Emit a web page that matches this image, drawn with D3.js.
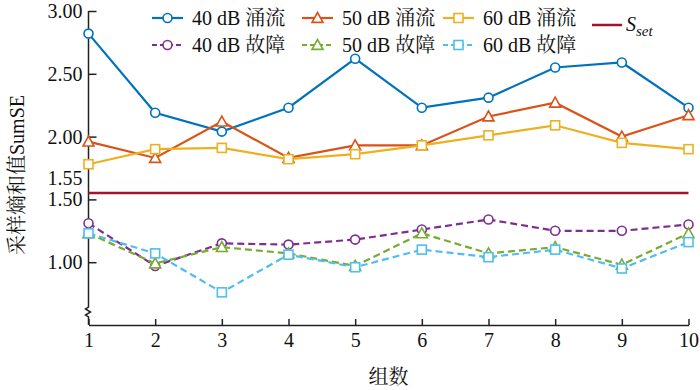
<!DOCTYPE html>
<html>
<head>
<meta charset="utf-8">
<script src="https://cdn.jsdelivr.net/npm/d3@7.9.0/dist/d3.min.js"></script>
<style>
  body { margin: 0; background: #fff; }
  svg text { font-family: "Liberation Serif", "Noto Serif CJK SC", "Noto Sans CJK SC", serif; fill: #111; }
</style>
</head>
<body>
<svg id="chart" width="700" height="390"></svg>
<script>
// data
const groups = [1, 2, 3, 4, 5, 6, 7, 8, 9, 10];
const inrush40 = [2.82, 2.19, 2.04, 2.23, 2.62, 2.23, 2.31, 2.55, 2.59, 2.23];
const inrush50 = [1.96, 1.83, 2.12, 1.83, 1.93, 1.93, 2.16, 2.27, 2.00, 2.17];
const inrush60 = [1.78, 1.90, 1.91, 1.82, 1.86, 1.93, 2.01, 2.09, 1.95, 1.90];
const fault40 = [1.31, 0.97, 1.15, 1.14, 1.18, 1.26, 1.34, 1.25, 1.25, 1.30];
const fault50 = [1.23, 0.99, 1.12, 1.07, 0.97, 1.23, 1.07, 1.12, 0.98, 1.23];
const fault60 = [1.23, 1.07, 0.76, 1.06, 0.96, 1.10, 1.04, 1.10, 0.95, 1.16];
const sSet = 1.55;
const yTicks = [1.00, 1.50, 2.00, 2.50, 3.00];

const series = [
    { name: "40 dB 涌流", values: inrush40, color: "#0072BD", marker: "circle", dash: null },
    { name: "50 dB 涌流", values: inrush50, color: "#D95319", marker: "triangle", dash: null },
    { name: "60 dB 涌流", values: inrush60, color: "#EDB120", marker: "square", dash: null },
    { name: "40 dB 故障", values: fault40, color: "#7E2F8E", marker: "circle", dash: "7,4" },
    { name: "50 dB 故障", values: fault50, color: "#77AC30", marker: "triangle", dash: "7,4" },
    { name: "60 dB 故障", values: fault60, color: "#4DBEEE", marker: "square", dash: "7,4" }
];

const svg = d3.select("#chart");

const x = d3.scaleLinear().domain([1, 10]).range([88.5, 688.5]);
const y = d3.scaleLinear().domain([0.5, 3.0]).range([325, 11]);

// FUNCTION draw a marker at (cx, cy)
function drawMarker(g, type, cx, cy, color) {
    if (type === "circle") {
        g.append("circle").attr("cx", cx).attr("cy", cy).attr("r", 4.5)
            .attr("fill", "#fff").attr("stroke", color).attr("stroke-width", 1.6);
    } else if (type === "triangle") {
        const s = 5.5;
        g.append("path")
            .attr("d", `M${cx},${cy - s} L${cx + s},${cy + s * 0.8} L${cx - s},${cy + s * 0.8} Z`)
            .attr("fill", "#fff").attr("stroke", color).attr("stroke-width", 1.6);
    } else {
        g.append("rect").attr("x", cx - 4.5).attr("y", cy - 4.5).attr("width", 9).attr("height", 9)
            .attr("fill", "#fff").attr("stroke", color).attr("stroke-width", 1.6);
    }
}

// x axis
const xAxis = svg.append("g")
    .attr("transform", `translate(0,${y(0.5)})`)
    .call(d3.axisBottom(x).tickValues(groups).tickFormat(d3.format("d"))
        .tickSizeInner(-6).tickSizeOuter(0).tickPadding(8));
xAxis.selectAll("text").attr("font-size", 20);
xAxis.selectAll("line, path").attr("stroke", "#222").attr("stroke-width", 1.5);

// y axis (ticks inward)
const yAxis = svg.append("g")
    .attr("transform", `translate(${x(1)},0)`)
    .call(d3.axisLeft(y).tickValues(yTicks).tickFormat(d3.format(".2f"))
        .tickSizeInner(-8).tickSizeOuter(0).tickPadding(6));
yAxis.select(".domain").remove();
yAxis.selectAll("text").attr("font-size", 20);
yAxis.selectAll("line").attr("stroke", "#222").attr("stroke-width", 1.5);

// 1.55 label without tick, lifted to clear 1.50
svg.append("text")
    .attr("x", x(1) - 6).attr("y", y(sSet) - 15)
    .attr("dy", "0.32em").attr("text-anchor", "end")
    .attr("font-size", 20).text(d3.format(".2f")(sSet));

// y axis line with break
const ax = x(1);
svg.append("path")
    .attr("d", `M${ax},${y(3.0)} V307 l-3,2 l5,3 l-5,3 l3,2 V${y(0.5)}`)
    .attr("fill", "none").attr("stroke", "#222").attr("stroke-width", 1.5);

// threshold line
svg.append("line")
    .attr("x1", x(1)).attr("x2", x(10))
    .attr("y1", y(sSet)).attr("y2", y(sSet))
    .attr("stroke", "#A2142F").attr("stroke-width", 2.5);

// series
const line = d3.line().x((d, i) => x(groups[i])).y(d => y(d));
series.forEach(s => {
    const g = svg.append("g");
    g.append("path").datum(s.values)
        .attr("d", line)
        .attr("fill", "none")
        .attr("stroke", s.color)
        .attr("stroke-width", 2.2)
        .attr("stroke-dasharray", s.dash);
    s.values.forEach((v, i) => drawMarker(g, s.marker, x(groups[i]), y(v), s.color));
});

// legend
const legendCols = [152, 302, 443];
const legendRows = [18, 45];
series.forEach((s, i) => {
    const lx = legendCols[i % 3];
    const ly = legendRows[Math.floor(i / 3)];
    const g = svg.append("g");
    g.append("line").attr("x1", lx).attr("x2", lx + 31).attr("y1", ly).attr("y2", ly)
        .attr("stroke", s.color).attr("stroke-width", 2.2).attr("stroke-dasharray", s.dash ? "5,3" : null);
    drawMarker(g, s.marker, lx + 15.5, ly, s.color);
    g.append("text").attr("x", lx + 40).attr("y", ly).attr("dy", "0.35em")
        .attr("font-size", 20).text(s.name);
});
svg.append("line").attr("x1", 592).attr("x2", 622).attr("y1", 25).attr("y2", 25)
    .attr("stroke", "#A2142F").attr("stroke-width", 2.5);
const sl = svg.append("text").attr("x", 626).attr("y", 31).attr("font-size", 20).attr("font-style", "italic");
sl.append("tspan").text("S");
sl.append("tspan").attr("font-size", 15).attr("dy", 5).text("set");

// axis titles
svg.append("text")
    .attr("x", x(5.5)).attr("y", 384)
    .attr("text-anchor", "middle").attr("font-size", 20).text("组数");
svg.append("text")
    .attr("transform", `translate(24,${175}) rotate(-90)`)
    .attr("text-anchor", "middle").attr("font-size", 20).text("采样熵和值SumSE");
</script>
</body>
</html>
